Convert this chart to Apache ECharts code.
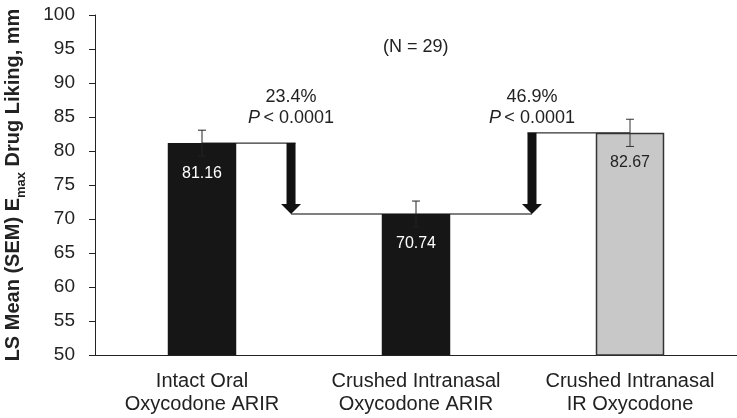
<!DOCTYPE html>
<html>
<head>
<meta charset="utf-8">
<script src="https://cdn.jsdelivr.net/npm/echarts@6/dist/echarts.min.js"></script>
<style>html,body{margin:0;padding:0;background:#fff}#c{width:737px;height:418px}</style>
</head>
<body>
<div id="c"></div>
<script>
// ---- data ----
var categories = ['Intact Oral\nOxycodone ARIR', 'Crushed Intranasal\nOxycodone ARIR', 'Crushed Intranasal\nIR Oxycodone'];
var means = [81.16, 70.74, 82.67];
var sems = [1.9, 1.9, 2.0];
var compFrom = [0, 2];
var compTo = [1, 1];
var compPct = ['23.4%', '46.9%'];
var compP = ['< 0.0001', '< 0.0001'];
var yTicks = [50, 55, 60, 65, 70, 75, 80, 85, 90, 95, 100];
var nLabel = '(N = 29)';

// ---- styles ----
var FONT = '"Liberation Sans", Arial, Helvetica, sans-serif';
var barColors = ['#161616', '#161616', '#c8c8c8'];
var barBorders = ['#161616', '#161616', '#333333'];
var labelColors = ['#ffffff', '#ffffff', '#222222'];
var errColors = ['#222', '#222', '#333'];
var arrowPos = [0.416, 1.542]; // arrow x position in category units
var pctRowValue = 88.0, pRowValue = 84.9;

var chart = echarts.init(document.getElementById('c'));

var barData = means.map(function (v, i) {
  return {
    value: v,
    itemStyle: { color: barColors[i], borderColor: barBorders[i], borderWidth: i === 2 ? 1.5 : 0 },
    label: { color: labelColors[i] }
  };
});

var compData = compFrom.map(function (f, i) { return [f, compTo[i], means[f], means[compTo[i]], arrowPos[i], i]; });
var errData = means.map(function (v, i) { return [i, v - sems[i], v + sems[i]]; });

function renderComp(params, api) {
  var from = api.value(0), fromVal = api.value(2), toVal = api.value(3), pos = api.value(4), idx = api.value(5);
  var band = api.size([1, 0])[0];
  var x0 = api.coord([0, fromVal])[0];
  var ax = x0 + pos * band;
  var yTop = api.coord([from, fromVal])[1];
  var yBot = api.coord([from, toVal])[1];
  var xFrom = api.coord([from, fromVal])[0];
  var shaftW = 9, headW = 20, headH = 10;
  var lineEndX = xFrom < ax ? ax + shaftW / 2 : ax - shaftW / 2;
  var children = [
    { type: 'line', shape: { x1: xFrom, y1: yTop, x2: lineEndX, y2: yTop }, style: { stroke: '#333', lineWidth: 1.3 } },
    { type: 'polygon', shape: { points: [
      [ax - shaftW / 2, yTop], [ax + shaftW / 2, yTop], [ax + shaftW / 2, yBot - headH],
      [ax + headW / 2, yBot - headH], [ax, yBot], [ax - headW / 2, yBot - headH], [ax - shaftW / 2, yBot - headH]
    ] }, style: { fill: '#111' } },
    { type: 'text', x: ax, y: api.coord([0, pctRowValue])[1], style: { text: compPct[idx], fill: '#222', font: '18px ' + FONT, align: 'center', verticalAlign: 'middle' } },
    { type: 'text', x: ax, y: api.coord([0, pRowValue])[1], style: {
      text: '{i|P} {n|' + compP[idx] + '}', align: 'center', verticalAlign: 'middle',
      rich: { i: { fontStyle: 'italic', fontSize: 18, fontFamily: FONT, fill: '#222' }, n: { fontSize: 18, fontFamily: FONT, fill: '#222' } }
    } }
  ];
  return { type: 'group', children: children };
}

function renderBaseline(params, api) {
  var band = api.size([1, 0])[0];
  var x0 = api.coord([0, means[compTo[0]]])[0];
  var y = api.coord([0, means[compTo[0]]])[1];
  return { type: 'line', shape: { x1: x0 + arrowPos[0] * band, y1: y, x2: x0 + arrowPos[1] * band, y2: y }, style: { stroke: '#555', lineWidth: 1.5 } };
}

function renderErr(params, api) {
  var i = api.value(0);
  var x = api.coord([i, api.value(1)])[0];
  var yLo = api.coord([i, api.value(1)])[1];
  var yHi = api.coord([i, api.value(2)])[1];
  var cap = 4;
  var c = errColors[i];
  return { type: 'group', children: [
    { type: 'line', shape: { x1: x, y1: yLo, x2: x, y2: yHi }, style: { stroke: c, lineWidth: 1 } },
    { type: 'line', shape: { x1: x - cap, y1: yHi, x2: x + cap, y2: yHi }, style: { stroke: c, lineWidth: 1 } },
    { type: 'line', shape: { x1: x - cap, y1: yLo, x2: x + cap, y2: yLo }, style: { stroke: c, lineWidth: 1 } }
  ] };
}

chart.setOption({
  animation: false,
  backgroundColor: '#fff',
  textStyle: { fontFamily: FONT },
  grid: { left: 95, right: 0, top: 15, bottom: 63, containLabel: false, outerBoundsMode: 'none' },
  xAxis: {
    type: 'category', data: categories,
    axisLine: { lineStyle: { color: '#222', width: 1 } },
    axisTick: { show: false },
    axisLabel: { fontSize: 20, lineHeight: 23, color: '#222', margin: 15, fontFamily: FONT, interval: 0 }
  },
  yAxis: {
    type: 'value', min: yTicks[0], max: yTicks[yTicks.length - 1], interval: yTicks[1] - yTicks[0],
    splitLine: { show: false },
    axisLine: { show: true, lineStyle: { color: '#222', width: 1 } },
    axisTick: { show: true, length: 6, lineStyle: { color: '#222' } },
    axisLabel: { fontSize: 19, color: '#222', margin: 20, fontFamily: FONT },
    name: '{b|LS Mean (SEM) E}{s|max}{b| Drug Liking, mm}',
    nameLocation: 'middle', nameGap: 72, nameRotate: 90,
    nameTextStyle: {
      rich: {
        b: { fontSize: 20, fontWeight: 'bold', color: '#222', fontFamily: FONT, lineHeight: 22, verticalAlign: 'bottom' },
        s: { fontSize: 13, fontWeight: 'bold', color: '#222', fontFamily: FONT, lineHeight: 22, verticalAlign: 'bottom', padding: [0, 0, -5, 0] }
      }
    }
  },
  graphic: [
    { type: 'text', left: 383, top: 38, style: { text: nLabel, fill: '#222', font: '18px ' + FONT } }
  ],
  series: [
    { type: 'custom', renderItem: renderBaseline, data: [[0]], z: 1, silent: true },
    { type: 'custom', renderItem: renderComp, data: compData, z: 1, silent: true },
    {
      type: 'bar', data: barData, barWidth: '32%', z: 2,
      label: { show: true, position: 'insideTop', distance: 22, fontSize: 16, fontFamily: FONT, formatter: function (p) { return p.value.toFixed(2); } }
    },
    { type: 'custom', renderItem: renderErr, data: errData, z: 3, silent: true }
  ]
});
</script>
</body>
</html>
